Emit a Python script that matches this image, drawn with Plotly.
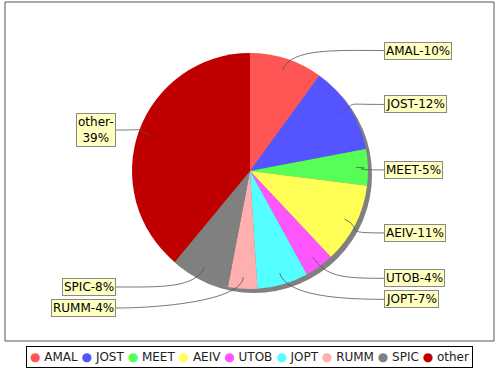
import math
import plotly.graph_objects as go

categories = ["AMAL", "JOST", "MEET", "AEIV", "UTOB", "JOPT", "RUMM", "SPIC", "other"]
values = [10, 12, 5, 11, 4, 7, 4, 8, 39]
colors = ["#FF5555", "#5555FF", "#55FF55", "#FFFF55", "#FF55FF", "#55FFFF",
          "#FFAFAF", "#808080", "#C00000"]
wrapped = {"other"}

W, H = 500, 370
CX, CY, R = 250, 171, 118
SHADOW = 4
FONT = "DejaVu Sans"


def px(x):
    return x / W


def py(y):
    return 1 - y / H


fig = go.Figure()

# shadow
fig.add_trace(go.Pie(
    values=[1], labels=["shadow"], marker=dict(colors=["#808080"], line=dict(width=0)),
    domain=dict(x=[px(CX - R + SHADOW), px(CX + R + SHADOW)],
                y=[py(CY + R + SHADOW), py(CY - R + SHADOW)]),
    textinfo="none", hoverinfo="skip", showlegend=False, sort=False))

fig.add_trace(go.Pie(
    values=values, labels=categories, marker=dict(colors=colors, line=dict(width=0)),
    domain=dict(x=[px(CX - R), px(CX + R)], y=[py(CY + R), py(CY - R)]),
    sort=False, direction="clockwise", rotation=0, textinfo="none",
    showlegend=False))

total = sum(values)
annotations = []
shapes = []

# frame
shapes.append(dict(type="rect", xref="paper", yref="paper",
                   x0=px(5), x1=px(494), y0=py(341), y1=py(2),
                   line=dict(color="#555555", width=1)))

# label positions
items = []
cum = 0
for cat, v in zip(categories, values):
    mid = (cum + v / 2) / total * 2 * math.pi
    cum += v
    side = "right" if math.sin(mid) >= 0 else "left"
    ly = CY + 3 - math.cos(mid) * R * 1.1
    items.append(dict(cat=cat, v=v, mid=mid, side=side, ly=ly))

GAP = 21
for side in ("right", "left"):
    grp = sorted([it for it in items if it["side"] == side], key=lambda d: d["ly"])
    for _ in range(20):
        moved = False
        for a, b in zip(grp, grp[1:]):
            d = b["ly"] - a["ly"]
            if d < GAP:
                shift = (GAP - d) / 2
                a["ly"] -= shift
                b["ly"] += shift
                moved = True
        if not moved:
            break

for it in items:
    mid = it["mid"]
    ax = CX + math.sin(mid) * R * 0.9
    ay = CY - math.cos(mid) * R * 0.9
    ex = CX + math.sin(mid) * R * 1.1
    ey = CY - math.cos(mid) * R * 1.1
    ly = it["ly"]
    if it["side"] == "right":
        lx = 384
        c2x = lx - 45
        xanchor = "left"
    else:
        lx = 116
        c2x = lx + 45
        xanchor = "right"
    path = (f"M {px(ax)} {py(ay)} C {px(ex)} {py(ey)}, {px(c2x)} {py(ly)}, "
            f"{px(lx)} {py(ly)}")
    shapes.append(dict(type="path", xref="paper", yref="paper", path=path,
                       line=dict(color="#555555", width=0.8)))
    pct = round(it["v"] / total * 100)
    if it["cat"] in wrapped:
        text = f"{it['cat']}-<br>{pct}%"
    else:
        text = f"{it['cat']}-{pct}%"
    annotations.append(dict(
        x=px(lx), y=py(ly), xref="paper", yref="paper",
        xanchor=xanchor, yanchor="middle", text=text, showarrow=False,
        align="center", font=dict(family=FONT, size=12, color="black"),
        bgcolor="#FFFFC0", bordercolor="#888888", borderwidth=1, borderpad=1))

# legend
legend_text = " ".join(
    f"<span style='color:{c}'>●</span> {cat}" for cat, c in zip(categories, colors))
annotations.append(dict(
    x=px(249.5), y=py(356.5), xref="paper", yref="paper",
    xanchor="center", yanchor="middle", text=legend_text, showarrow=False,
    font=dict(family=FONT, size=12, color="#222222"),
    bgcolor="white", bordercolor="black", borderwidth=1, borderpad=3))

fig.update_layout(
    width=W, height=H, margin=dict(l=0, r=0, t=0, b=0),
    paper_bgcolor="white", plot_bgcolor="white",
    shapes=shapes, annotations=annotations, showlegend=False,
    font=dict(family=FONT))

fig.write_html(
    "out.html",
    config={"displayModeBar": False},
    post_script="document.body.style.margin='0';document.body.style.overflow='hidden';")
